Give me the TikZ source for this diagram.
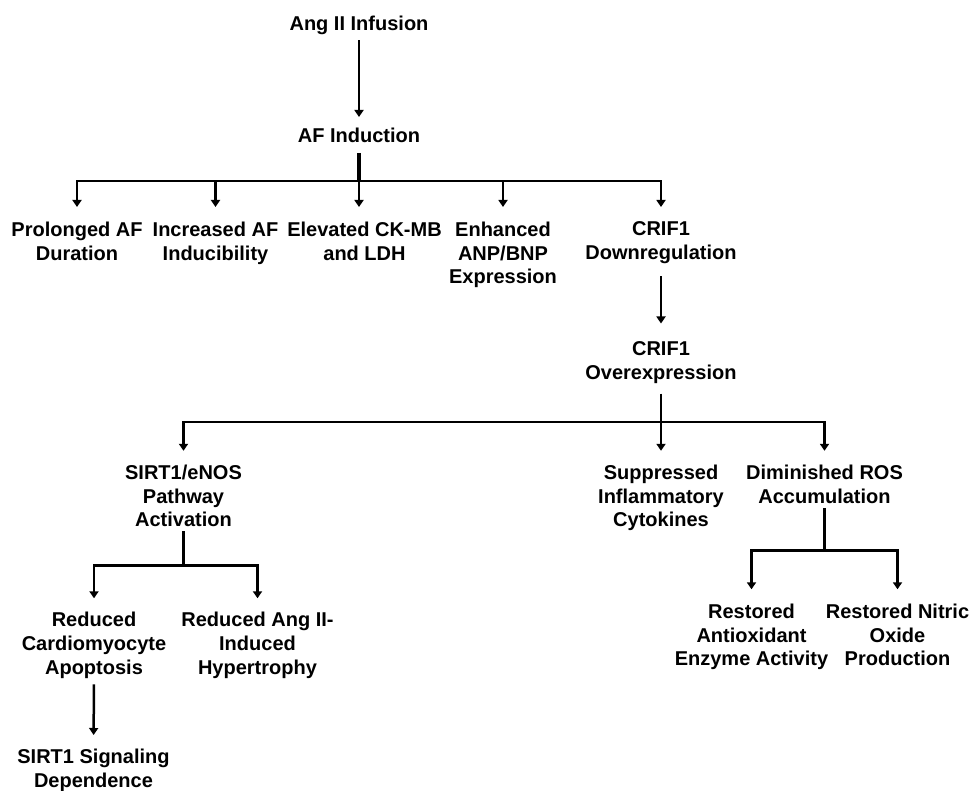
\documentclass[tikz,border=0pt]{standalone}
\usepackage{fontspec}
\setmainfont{Liberation Sans}
\usetikzlibrary{arrows.meta}
\begin{document}
\begin{tikzpicture}[x=1pt,y=-1pt,
  lbl/.style={anchor=north, align=center, inner sep=0pt, outer sep=0pt,
              font=\fontsize{20}{23.8}\selectfont\bfseries},
  ln/.style={line width=2.5pt, line cap=rect},
  trunk/.style={line width=2.5pt},
  ar/.style={line width=2.5pt, line cap=rect, -{Triangle[width=9pt,length=7pt]}}]
\useasboundingbox (0,0) rectangle (972,791);
% nodes
\node[lbl] (ang)   at (359,15.8)  {Ang II Infusion};
\node[lbl] (af)    at (359,127.8) {AF Induction};
\node[lbl] (pro)   at (77,221.8)  {Prolonged AF\\Duration};
\node[lbl] (inc)   at (215.5,221.8) {Increased AF\\Inducibility};
\node[lbl] (ele)   at (364.5,221.8) {Elevated CK-MB\\and LDH};
\node[lbl] (enh)   at (503,221.8) {Enhanced\\ANP/BNP\\Expression};
\node[lbl] (crifd) at (661,221.8) {CRIF1\\Downregulation};
\node[lbl] (crifo) at (661,341.8) {CRIF1\\Overexpression};
\node[lbl] (sirt)  at (183.5,464.8) {SIRT1/eNOS\\Pathway\\Activation};
\node[lbl] (sup)   at (661,464.8) {Suppressed\\Inflammatory\\Cytokines};
\node[lbl] (ros)   at (824.5,464.8) {Diminished ROS\\Accumulation};
\node[lbl] (redc)  at (94,612.1)  {Reduced\\Cardiomyocyte\\Apoptosis};
\node[lbl] (reda)  at (257.5,612.1) {Reduced Ang II-\\Induced\\Hypertrophy};
\node[lbl] (sig)   at (93.5,749.5) {SIRT1 Signaling\\Dependence};
\node[lbl] (anti)  at (751.5,603.8) {Restored\\Antioxidant\\Enzyme Activity};
\node[lbl] (nitr)  at (897.5,603.8) {Restored Nitric\\Oxide\\Production};
% bar coordinates
\coordinate (bara) at (359,181);
\coordinate (barb) at (661,422);
\coordinate (barc) at (183.5,565.7);
\coordinate (bard) at (824.5,550.7);
% Ang -> AF
\draw[ar, shorten <=6.6pt, shorten >=10.8pt] (ang.south) -- (af.north);
% AF fork
\draw[trunk, line width=3.5pt, shorten <=10.5pt] (af.south) -- (bara);
\draw[ln] (pro.north |- bara) -- (crifd.north |- bara);
\draw[ar, shorten >=14.8pt] (pro.north |- bara) -- (pro.north);
\draw[ar, shorten >=14.8pt] (inc.north |- bara) -- (inc.north);
\draw[ar, shorten >=14.8pt] (bara) -- (bara |- ele.north);
\draw[ar, shorten >=14.8pt] (enh.north |- bara) -- (enh.north);
\draw[ar, shorten >=14.8pt] (crifd.north |- bara) -- (crifd.north);
% CRIF1 down -> over
\draw[ar, shorten <=13.6pt, shorten >=18.3pt] (crifd.south) -- (crifo.north);
% CRIF1 over fork
\draw[trunk, shorten <=10pt] (crifo.south) -- (barb);
\draw[ln] (sirt.north |- barb) -- (ros.north |- barb);
\draw[ar, shorten >=14pt] (sirt.north |- barb) -- (sirt.north);
\draw[ar, shorten >=14pt] (barb) -- (sup.north);
\draw[ar, shorten >=14pt] (ros.north |- barb) -- (ros.north);
% SIRT1 fork
\draw[ln, shorten <=4.8pt] (sirt.south) -- (barc);
\draw[ln] (redc.north |- barc) -- (reda.north |- barc);
\draw[ar, shorten >=13.8pt] (redc.north |- barc) -- (redc.north);
\draw[ar, shorten >=13.8pt] (reda.north |- barc) -- (reda.north);
% Reduced cardio -> SIRT1 signaling
\draw[ar, shorten <=7.3pt, shorten >=14.5pt] (redc.south) -- (sig.north);
% ROS fork
\draw[ln, shorten <=5.8pt] (ros.south) -- (bard);
\draw[ln] (anti.north |- bard) -- (nitr.north |- bard);
\draw[ar, shorten >=14.5pt] (anti.north |- bard) -- (anti.north);
\draw[ar, shorten >=14.5pt] (nitr.north |- bard) -- (nitr.north);
\end{tikzpicture}
\end{document}
